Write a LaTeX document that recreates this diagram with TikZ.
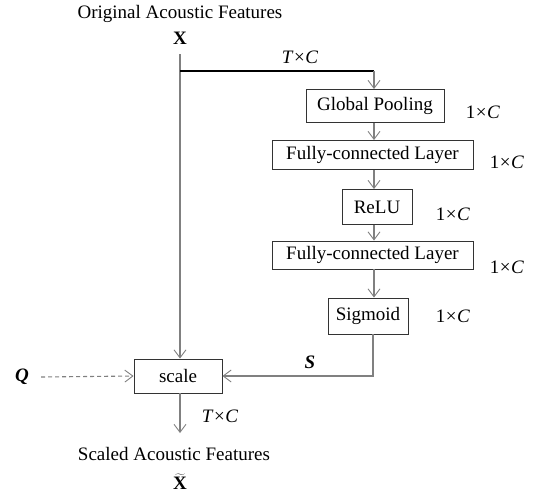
\documentclass[tikz,border=0pt]{standalone}
\usepackage{fontspec}
\setmainfont{Liberation Serif}
\usetikzlibrary{arrows.meta}
\tikzset{
  base/.style={font=\fontsize{19}{23}\selectfont, inner sep=0pt},
  block/.style={base, draw=black!80, line width=0.9pt, fill=white},
  flow/.style={draw=black!50, line width=1.1pt, -{Straight Barb[length=8pt,width=12pt,line width=0.9pt]}},
  dims/.style={base},
}
\newcommand{\dimTC}{\textit{T}\kern0.5pt×\kern0.5pt\textit{C}}
\newcommand{\dimOC}{1\kern0.5pt×\kern0.5pt\textit{C}}
\begin{document}
\begin{tikzpicture}[x=1pt,y=-1pt]
\useasboundingbox (0,0) rectangle (538,491);

% input and output captions
\node[base] (orig) at (180,14) {Original Acoustic Features};
\node[base] (xin) at (180,38) {\textbf{X}};
\node[base] (scaled) at (174,454) {Scaled Acoustic Features};
\node[base, anchor=base] (xout) at (180,489.5) {$\widetilde{\mbox{\textbf{X}}}$};

% squeeze-and-excitation branch
\node[block, minimum width=138pt, minimum height=33pt] (gp) at (375,106) {Global Pooling};
\node[block, minimum width=201pt, minimum height=29pt] (fc1) at (372.5,155) {Fully-connected Layer};
\node[block, minimum width=70pt, minimum height=35pt] (relu) at (377,207) {ReLU};
\node[block, minimum width=201pt, minimum height=28pt] (fc2) at (372.5,255) {Fully-connected Layer};
\node[block, minimum width=80pt, minimum height=36pt] (sig) at (368,316) {Sigmoid};
\node[block, minimum width=88pt, minimum height=34pt] (scale) at (178,376) {scale};

% side inputs
\node[base] (q) at (22,377) {\textbf{\textit{Q}}};
\node[base] (s) at (310,362) {\textbf{\textit{S}}};

% dimension labels
\node[dims] (d0) at (300,57) {\dimTC};
\node[dims] (d1) at (483,112) {\dimOC};
\node[dims] (d2) at (507,162) {\dimOC};
\node[dims] (d3) at (453,214) {\dimOC};
\node[dims] (d4) at (507,267) {\dimOC};
\node[dims] (d5) at (453,316) {\dimOC};
\node[dims] (d6) at (220,416) {\dimTC};

% column positions and free ends
\coordinate (xcol) at (180,54);
\coordinate (split) at (180,71);
\coordinate (turn) at (374,71);
\coordinate (bcol) at (374,0);
\coordinate (sdown) at (373,376);
\coordinate (outend) at (180,433);

% main path
\draw[flow] (xcol) -- (scale.north -| xcol);
\draw[flow] (scale.south -| xcol) -- (outend);

% branch
\draw[line width=2pt] (split) -- (turn);
\draw[flow] (turn) -- (gp.north -| bcol);
\draw[flow] (gp.south -| bcol) -- (fc1.north -| bcol);
\draw[flow] (fc1.south -| bcol) -- (relu.north -| bcol);
\draw[flow] (relu.south -| bcol) -- (fc2.north -| bcol);
\draw[flow] (fc2.south -| bcol) -- (sig.north -| bcol);
\draw[flow] (sig.south -| sdown) -- (sdown) -- (scale.east);

% optional conditioning input
\draw[flow, dashed, dash pattern=on 4pt off 3pt] (q.east) ++(12,0) -- (scale.west);
\end{tikzpicture}
\end{document}
